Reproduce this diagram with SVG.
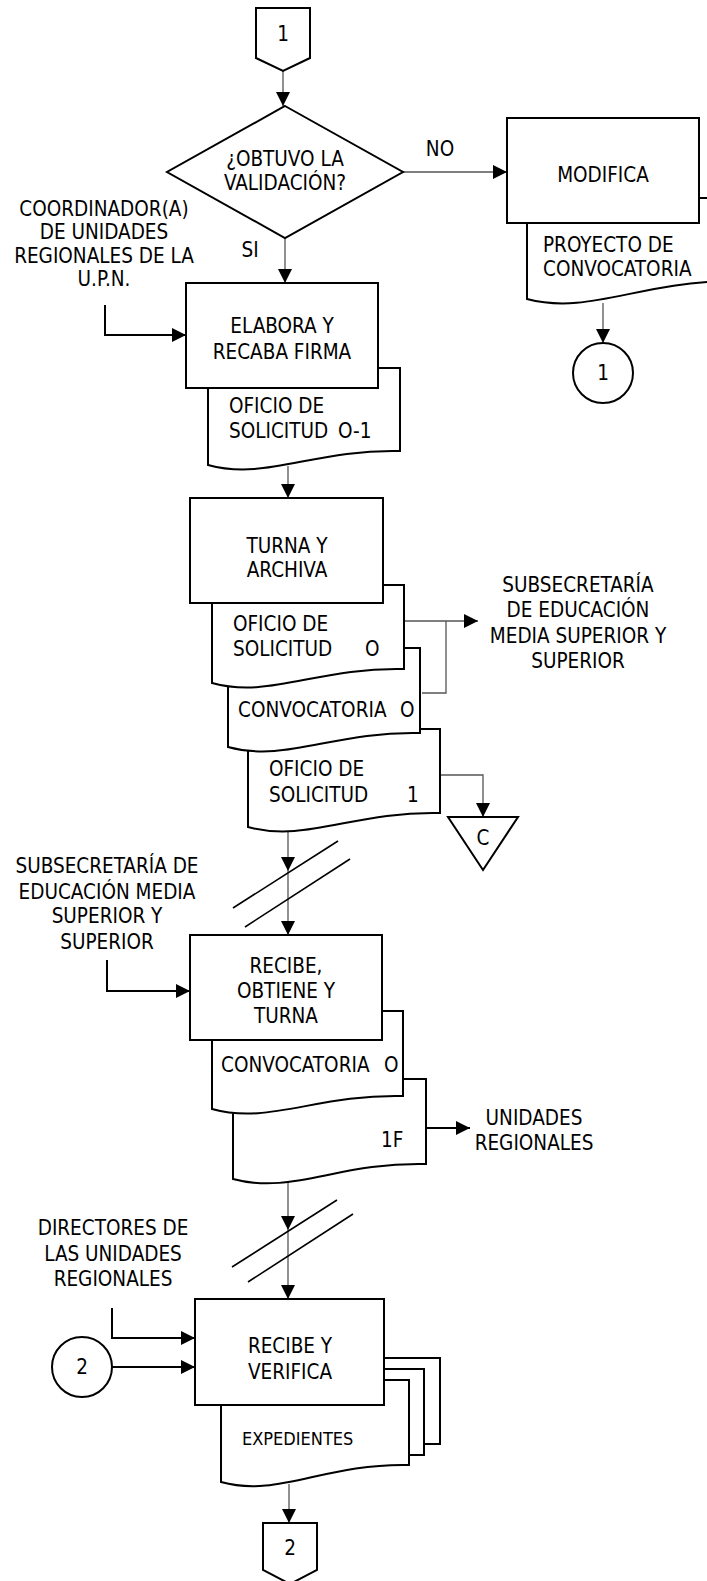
<svg xmlns="http://www.w3.org/2000/svg" width="707" height="1581" viewBox="0 0 707 1581">
<style>
.s{fill:#fff;stroke:#000;stroke-width:2}
.t{font-family:"DejaVu Sans Condensed","DejaVu Sans",sans-serif;font-stretch:condensed;font-size:20.5px;fill:#000}
.m{text-anchor:middle}
.c{fill:none;stroke:#555;stroke-width:1.3}
.i{fill:none;stroke:#000;stroke-width:2}
.sl{stroke:#000;stroke-width:1.6}
</style>
<defs>
<marker id="a" markerUnits="userSpaceOnUse" markerWidth="14" markerHeight="14" refX="14" refY="7" orient="auto">
<path d="M0,0 L14,7 L0,14 Z" fill="#000"/>
</marker>
</defs>
<rect width="707" height="1581" fill="#fff"/>

<g id="connectors">
<line class="c" x1="283" y1="71" x2="283" y2="106" marker-end="url(#a)"/>
<line class="c" x1="403" y1="172" x2="507" y2="172" marker-end="url(#a)"/>
<line class="c" x1="603" y1="303" x2="603" y2="343" marker-end="url(#a)"/>
<line class="c" x1="285" y1="238" x2="285" y2="283" marker-end="url(#a)"/>
<polyline class="i" points="105,305 105,335 186,335" marker-end="url(#a)"/>
<line class="c" x1="288" y1="466" x2="288" y2="498" marker-end="url(#a)"/>
<polyline class="c" points="404,621 478,621" marker-end="url(#a)"/>
<polyline class="c" points="446,621 446,693 422,693"/>
<polyline class="c" points="440,775 483,775 483,817" marker-end="url(#a)"/>
<line class="c" x1="288" y1="826" x2="288" y2="871" marker-end="url(#a)"/>
<line class="c" x1="288" y1="871" x2="288" y2="935" marker-end="url(#a)"/>
<line class="sl" x1="233" y1="908" x2="338" y2="841"/>
<line class="sl" x1="245" y1="927" x2="350" y2="859"/>
<polyline class="i" points="107,960 107,991 190,991" marker-end="url(#a)"/>
<line class="i" x1="426" y1="1128" x2="470" y2="1128" marker-end="url(#a)"/>
<line class="c" x1="288" y1="1176" x2="288" y2="1230" marker-end="url(#a)"/>
<line class="c" x1="288" y1="1230" x2="288" y2="1299" marker-end="url(#a)"/>
<line class="sl" x1="232" y1="1267" x2="337" y2="1200"/>
<line class="sl" x1="248" y1="1282" x2="353" y2="1214"/>
<polyline class="i" points="112,1308 112,1338 195,1338" marker-end="url(#a)"/>
<line class="i" x1="112" y1="1367" x2="195" y2="1367" marker-end="url(#a)"/>
<line class="c" x1="289" y1="1484" x2="289" y2="1523" marker-end="url(#a)"/>
</g>

<g id="conn1-top">
<polygon class="s" points="256,8 310,8 310,58 283,71 256,58"/>
<text class="t m" x="283" y="41">1</text>
</g>

<g id="decision">
<polygon class="s" points="285,106 403,172 285,238 167,172"/>
<text class="t m" x="285" y="166">¿OBTUVO LA</text>
<text class="t m" x="285" y="190">VALIDACIÓN?</text>
<text class="t m" x="440" y="156">NO</text>
<text class="t m" x="250" y="257">SI</text>
</g>

<g id="modifica">
<path class="s" d="M527,198 H727 V281 C637,283 587,315 527,299 Z"/>
<rect class="s" x="507" y="118" width="192" height="105"/>
<text class="t m" x="603" y="182">MODIFICA</text>
<text class="t" x="543" y="252">PROYECTO DE</text>
<text class="t" x="543" y="276">CONVOCATORIA</text>
</g>

<g id="conn1-circle">
<circle class="s" cx="603" cy="373" r="30"/>
<text class="t m" x="603" y="380">1</text>
</g>

<g id="coordinador">
<text class="t m" x="104" y="216">COORDINADOR(A)</text>
<text class="t m" x="104" y="239">DE UNIDADES</text>
<text class="t m" x="104" y="263">REGIONALES DE LA</text>
<text class="t m" x="104" y="286">U.P.N.</text>
</g>

<g id="elabora">
<path class="s" d="M208,368 H400 V451 C314,449 266,481 208,465 Z"/>
<rect class="s" x="186" y="283" width="192" height="105"/>
<text class="t m" x="282" y="333">ELABORA Y</text>
<text class="t m" x="282" y="359">RECABA FIRMA</text>
<text class="t" x="229" y="413">OFICIO DE</text>
<text class="t" x="229" y="438">SOLICITUD</text>
<text class="t" x="338" y="438">O-1</text>
</g>

<g id="turna">
<path class="s" d="M248,729 H440 V813 C354,811 306,843 248,827 Z"/>
<path class="s" d="M228,648 H420 V733 C334,731 286,763 228,747 Z"/>
<path class="s" d="M212,585 H404 V669 C318,667 270,699 212,683 Z"/>
<rect class="s" x="190" y="498" width="193" height="105"/>
<text class="t m" x="287" y="553">TURNA Y</text>
<text class="t m" x="287" y="577">ARCHIVA</text>
<text class="t" x="233" y="631">OFICIO DE</text>
<text class="t" x="233" y="656">SOLICITUD</text>
<text class="t" x="365" y="656">O</text>
<text class="t" x="238" y="717">CONVOCATORIA</text>
<text class="t" x="400" y="717">O</text>
<text class="t" x="269" y="776">OFICIO DE</text>
<text class="t" x="269" y="802">SOLICITUD</text>
<text class="t" x="407" y="802">1</text>
</g>

<g id="subsecretaria-out">
<text class="t m" x="578" y="592">SUBSECRETARÍA</text>
<text class="t m" x="578" y="617">DE EDUCACIÓN</text>
<text class="t m" x="578" y="643">MEDIA SUPERIOR Y</text>
<text class="t m" x="578" y="668">SUPERIOR</text>
</g>

<g id="archivo-c">
<polygon class="s" points="448,817 518,817 483,870"/>
<text class="t m" x="483" y="845">C</text>
</g>

<g id="subsecretaria-in">
<text class="t m" x="107" y="873">SUBSECRETARÍA DE</text>
<text class="t m" x="107" y="899">EDUCACIÓN MEDIA</text>
<text class="t m" x="107" y="923">SUPERIOR Y</text>
<text class="t m" x="107" y="949">SUPERIOR</text>
</g>

<g id="recibe">
<path class="s" d="M233,1079 H426 V1164 C339,1162 291,1195 233,1179 Z"/>
<path class="s" d="M212,1011 H403 V1096 C317,1094 269,1125 212,1109 Z"/>
<rect class="s" x="190" y="935" width="192" height="105"/>
<text class="t m" x="286" y="973">RECIBE,</text>
<text class="t m" x="286" y="998">OBTIENE Y</text>
<text class="t m" x="286" y="1023">TURNA</text>
<text class="t" x="221" y="1072">CONVOCATORIA</text>
<text class="t" x="384" y="1072">O</text>
<text class="t" x="381" y="1147">1F</text>
</g>

<g id="unidades">
<text class="t m" x="534" y="1125">UNIDADES</text>
<text class="t m" x="534" y="1150">REGIONALES</text>
</g>

<g id="directores">
<text class="t m" x="113" y="1235">DIRECTORES DE</text>
<text class="t m" x="113" y="1261">LAS UNIDADES</text>
<text class="t m" x="113" y="1286">REGIONALES</text>
</g>

<g id="conn2-circle">
<circle class="s" cx="82" cy="1367" r="30"/>
<text class="t m" x="82" y="1374">2</text>
</g>

<g id="verifica">
<rect class="s" x="300" y="1358" width="140" height="86"/>
<rect class="s" x="290" y="1369" width="134" height="86"/>
<path class="s" d="M221,1380 H409 V1465 C324,1463 278,1498 221,1482 Z"/>
<rect class="s" x="195" y="1299" width="189" height="106"/>
<text class="t m" x="290" y="1353">RECIBE Y</text>
<text class="t m" x="290" y="1379">VERIFICA</text>
<text class="t" x="242" y="1445" style="font-size:18px">EXPEDIENTES</text>
</g>

<g id="conn2-bottom">
<polygon class="s" points="263,1523 317,1523 317,1570 290,1584 263,1570"/>
<text class="t m" x="290" y="1555">2</text>
</g>
</svg>
